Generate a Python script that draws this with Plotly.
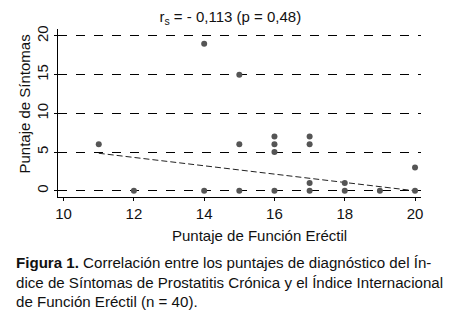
import plotly.graph_objects as go

# Data
func_erectil = [11, 12, 14, 14, 15, 15, 15, 16, 16, 16, 16, 17, 17, 17, 17, 18, 18, 19, 20, 20]
sintomas     = [6,  0,  19, 0,  15, 6,  0,  7,  6,  5,  0,  7,  6,  1,  0,  1,  0,  0,  3,  0]
fit_x = [11, 20]
fit_y = [4.85, 0.0]
x_ticks = [10, 12, 14, 16, 18, 20]
y_ticks = [0, 5, 10, 15, 20]

FONT = "Liberation Sans, Arial, sans-serif"

fig = go.Figure()
fig.add_trace(go.Scatter(x=fit_x, y=fit_y, mode="lines",
                         line=dict(color="#222222", width=1, dash="6px,3px"),
                         hoverinfo="skip", showlegend=False))
fig.add_trace(go.Scatter(x=func_erectil, y=sintomas, mode="markers",
                         marker=dict(color="#555555", size=6, line=dict(width=0)),
                         showlegend=False))

fig.update_layout(
    width=470, height=320,
    paper_bgcolor="white", plot_bgcolor="white",
    margin=dict(l=58, r=49, t=29, b=123, autoexpand=False),
    font=dict(family=FONT, size=15, color="#111111"),
    title=dict(text="r<sub>s</sub> = - 0,113 (p = 0,48)", x=0.49, xanchor="center",
               y=0.947, yanchor="middle", font=dict(size=15, family=FONT, color="#111111")),
    xaxis=dict(range=[9.84, 20.17], tickvals=x_ticks, showgrid=False, zeroline=False,
               automargin=False,
               showline=True, linecolor="black", linewidth=1,
               ticks="outside", ticklen=3, tickcolor="black",
               tickfont=dict(size=15)),
    yaxis=dict(range=[-0.8, 20.9], tickvals=y_ticks, showgrid=True,
               automargin=False,
               gridcolor="black", griddash="dash", gridwidth=1, zeroline=False,
               showline=True, linecolor="black", linewidth=1,
               ticks="outside", ticklen=3, tickcolor="black",
               tickangle=-90, tickfont=dict(size=15)),
)

# axis titles (placed as in the reference, not centred on the plot area)
fig.add_annotation(text="Puntaje de Función Eréctil", xref="paper", yref="paper",
                   x=0.556, y=-0.232, xanchor="center", yanchor="middle",
                   showarrow=False, font=dict(family=FONT, size=15, color="#111111"))
fig.add_annotation(text="Puntaje de Síntomas", xref="paper", yref="paper",
                   x=-0.091, y=0.556, xanchor="center", yanchor="middle", textangle=-90,
                   showarrow=False, font=dict(family=FONT, size=15, color="#111111"))

caption = ("<b>Figura 1.</b> Correlación entre los puntajes de diagnóstico del Ín-<br>"
           "dice de Síntomas de Prostatitis Crónica y el Índice Internacional<br>"
           "de Función Eréctil (n = 40).")
fig.add_annotation(text=caption, xref="paper", yref="paper",
                   x=-0.121, y=-0.33, xanchor="left", yanchor="top",
                   align="left", showarrow=False,
                   font=dict(family=FONT, size=15.1, color="#111111"))

fig.write_html("out.html", config={"displayModeBar": False},
               post_script="document.body.style.margin='0';")
